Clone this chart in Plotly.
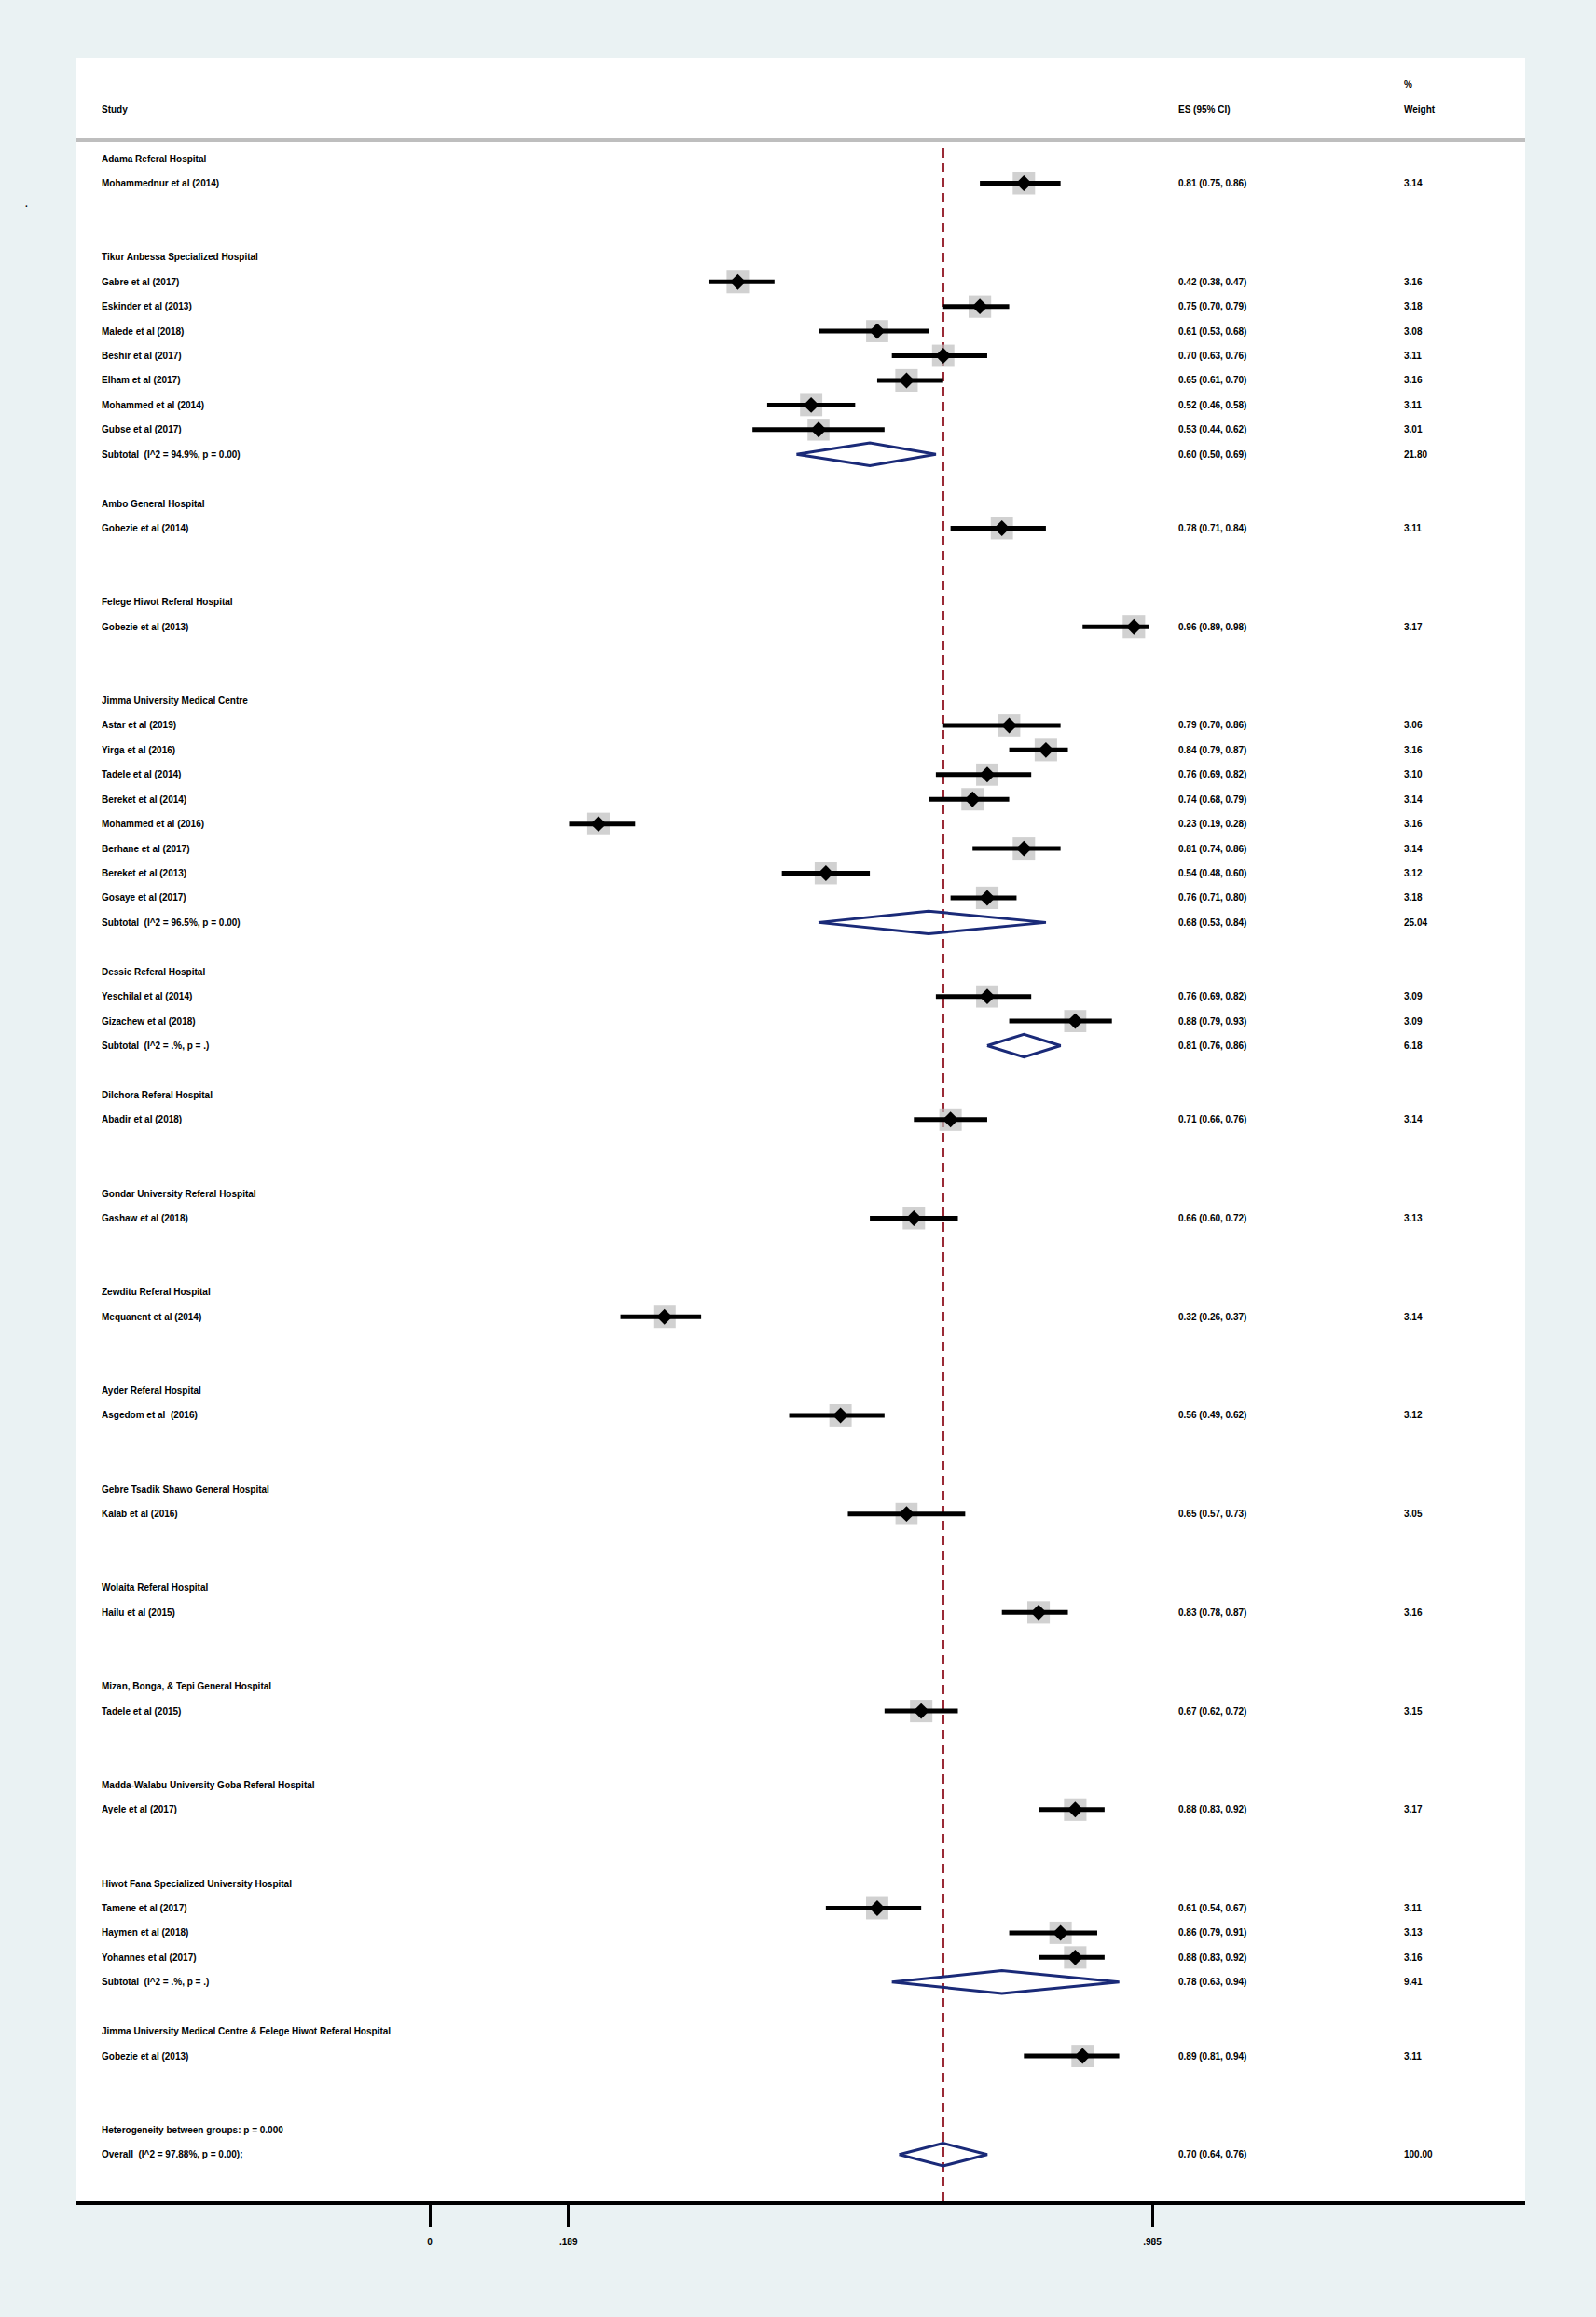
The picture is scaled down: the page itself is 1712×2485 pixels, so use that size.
import math
import plotly.graph_objects as go

W, H = 1712, 2485

# ---------------- data ----------------
group_names = [
    "Adama Referal Hospital",
    "Tikur Anbessa Specialized Hospital",
    "Ambo General Hospital",
    "Felege Hiwot Referal Hospital",
    "Jimma University Medical Centre",
    "Dessie Referal Hospital",
    "Dilchora Referal Hospital",
    "Gondar University Referal Hospital",
    "Zewditu Referal Hospital",
    "Ayder Referal Hospital",
    "Gebre Tsadik Shawo General Hospital",
    "Wolaita Referal Hospital",
    "Mizan, Bonga, & Tepi General Hospital",
    "Madda-Walabu University Goba Referal Hospital",
    "Hiwot Fana Specialized University Hospital",
    "Jimma University Medical Centre & Felege Hiwot Referal Hospital",
]

study_group = [0,
               1, 1, 1, 1, 1, 1, 1,
               2,
               3,
               4, 4, 4, 4, 4, 4, 4, 4,
               5, 5,
               6, 7, 8, 9, 10, 11, 12, 13,
               14, 14, 14,
               15]

study_labels = [
    "Mohammednur et al (2014)",
    "Gabre et al (2017)", "Eskinder et al (2013)", "Malede et al (2018)",
    "Beshir et al (2017)", "Elham et al (2017)", "Mohammed et al (2014)",
    "Gubse et al (2017)",
    "Gobezie et al (2014)",
    "Gobezie et al (2013)",
    "Astar et al (2019)", "Yirga et al (2016)", "Tadele et al (2014)",
    "Bereket et al (2014)", "Mohammed et al (2016)", "Berhane et al (2017)",
    "Bereket et al (2013)", "Gosaye et al (2017)",
    "Yeschilal et al (2014)", "Gizachew et al (2018)",
    "Abadir et al (2018)",
    "Gashaw et al (2018)",
    "Mequanent et al (2014)",
    "Asgedom et al  (2016)",
    "Kalab et al (2016)",
    "Hailu et al (2015)",
    "Tadele et al (2015)",
    "Ayele et al (2017)",
    "Tamene et al (2017)", "Haymen et al (2018)", "Yohannes et al (2017)",
    "Gobezie et al (2013)",
]

es = [0.81,
      0.42, 0.75, 0.61, 0.70, 0.65, 0.52, 0.53,
      0.78,
      0.96,
      0.79, 0.84, 0.76, 0.74, 0.23, 0.81, 0.54, 0.76,
      0.76, 0.88,
      0.71, 0.66, 0.32, 0.56, 0.65, 0.83, 0.67, 0.88,
      0.61, 0.86, 0.88,
      0.89]
lci = [0.75,
       0.38, 0.70, 0.53, 0.63, 0.61, 0.46, 0.44,
       0.71,
       0.89,
       0.70, 0.79, 0.69, 0.68, 0.19, 0.74, 0.48, 0.71,
       0.69, 0.79,
       0.66, 0.60, 0.26, 0.49, 0.57, 0.78, 0.62, 0.83,
       0.54, 0.79, 0.83,
       0.81]
uci = [0.86,
       0.47, 0.79, 0.68, 0.76, 0.70, 0.58, 0.62,
       0.84,
       0.98,
       0.86, 0.87, 0.82, 0.79, 0.28, 0.86, 0.60, 0.80,
       0.82, 0.93,
       0.76, 0.72, 0.37, 0.62, 0.73, 0.87, 0.72, 0.92,
       0.67, 0.91, 0.92,
       0.94]
weights = [3.14,
           3.16, 3.18, 3.08, 3.11, 3.16, 3.11, 3.01,
           3.11,
           3.17,
           3.06, 3.16, 3.10, 3.14, 3.16, 3.14, 3.12, 3.18,
           3.09, 3.09,
           3.14, 3.13, 3.14, 3.12, 3.05, 3.16, 3.15, 3.17,
           3.11, 3.13, 3.16,
           3.11]

# subtotals for groups with more than one study
sub_group = [1, 4, 5, 14]
sub_labels = ["Subtotal  (I^2 = 94.9%, p = 0.00)",
              "Subtotal  (I^2 = 96.5%, p = 0.00)",
              "Subtotal  (I^2 = .%, p = .)",
              "Subtotal  (I^2 = .%, p = .)"]
sub_es = [0.60, 0.68, 0.81, 0.78]
sub_lci = [0.50, 0.53, 0.76, 0.63]
sub_uci = [0.69, 0.84, 0.86, 0.94]
sub_wt = [21.80, 25.04, 6.18, 9.41]

overall_label = "Overall  (I^2 = 97.88%, p = 0.00);"
het_label = "Heterogeneity between groups: p = 0.000"
overall_es, overall_lci, overall_uci, overall_wt = 0.70, 0.64, 0.76, 100.00

tick_vals = [0, 0.189, 0.985]
tick_text = ["0", ".189", ".985"]

# ---------------- layout of rows ----------------
rows_text = []      # (row, label)
study_rows = []     # row per study
sub_rows = []       # row per subtotal
row = 0
for g, gname in enumerate(group_names):
    rows_text.append((row, gname))
    row += 1
    idx = [i for i, sg in enumerate(study_group) if sg == g]
    for i in idx:
        study_rows.append(row)
        rows_text.append((row, study_labels[i]))
        row += 1
    if g in sub_group:
        k = sub_group.index(g)
        sub_rows.append(row)
        rows_text.append((row, sub_labels[k]))
    row += 1   # subtotal slot (blank for single studies)
    row += 1   # spacer
het_row = row
overall_row = row + 1

# ---------------- geometry ----------------
PL, PR, PT, PB = 82, 1636, 62, 2361
px_per_unit = 786.8
x0px = 461.0
xmin = (PL - x0px) / px_per_unit
xmax = (PR - x0px) / px_per_unit
row_top, row_bot = -4.09, 82.9

def paper_x(px):
    return (px - PL) / (PR - PL)

X_STUDY = paper_x(107)
X_ES = paper_x(1262)
X_WT = paper_x(1504)

FONT = dict(family="Liberation Sans, Arial, sans-serif", size=10, color="#000000", weight="bold")
NAVY = "#1a2a78"
MAROON = "#9a2a36"
BG = "#eaf2f3"

fig = go.Figure()

# weight boxes
box_sizes = [24 * math.sqrt(w / 3.14) for w in weights]
fig.add_trace(go.Scatter(
    x=es, y=study_rows, mode="markers",
    marker=dict(symbol="square", size=box_sizes, color="#bdbdbd", line=dict(width=0)),
    hoverinfo="skip", showlegend=False))

# CI lines
cx, cy = [], []
for l, u, r in zip(lci, uci, study_rows):
    cx += [l, u, None]
    cy += [r, r, None]
fig.add_trace(go.Scatter(x=cx, y=cy, mode="lines",
                         line=dict(color="#000000", width=5),
                         hoverinfo="skip", showlegend=False))

# point estimates
fig.add_trace(go.Scatter(
    x=es, y=study_rows, mode="markers",
    marker=dict(symbol="diamond", size=13, color="#000000", line=dict(width=0)),
    hoverinfo="skip", showlegend=False))

# pooled diamonds
dh = 0.46
dx, dy = [], []
for e, l, u, r in list(zip(sub_es, sub_lci, sub_uci, sub_rows)) + [(overall_es, overall_lci, overall_uci, overall_row)]:
    dx += [l, e, u, e, l, None]
    dy += [r, r - dh, r, r + dh, r, None]
fig.add_trace(go.Scatter(x=dx, y=dy, mode="lines",
                         line=dict(color=NAVY, width=3),
                         hoverinfo="skip", showlegend=False))

annotations = []

def add_text(xp, yr, txt, anchor="left"):
    annotations.append(dict(x=xp, y=yr, xref="paper", yref="y", text=txt,
                            showarrow=False, xanchor=anchor, yanchor="middle",
                            font=FONT))

# headers
add_text(X_STUDY, -2, "Study")
add_text(X_ES, -2, "ES (95% CI)")
add_text(X_WT, -3, "%")
add_text(X_WT, -2, "Weight")

for r, t in rows_text:
    add_text(X_STUDY, r, t)

fmt = lambda e, l, u: f"{e:.2f} ({l:.2f}, {u:.2f})"
for i, r in enumerate(study_rows):
    add_text(X_ES, r, fmt(es[i], lci[i], uci[i]))
    add_text(X_WT, r, f"{weights[i]:.2f}")
for k, r in enumerate(sub_rows):
    add_text(X_ES, r, fmt(sub_es[k], sub_lci[k], sub_uci[k]))
    add_text(X_WT, r, f"{sub_wt[k]:.2f}")

add_text(X_STUDY, het_row, het_label)
add_text(X_STUDY, overall_row, overall_label)
add_text(X_ES, overall_row, fmt(overall_es, overall_lci, overall_uci))
add_text(X_WT, overall_row, f"{overall_wt:.2f}")

# small stray dot at far left
annotations.append(dict(x=paper_x(28), y=1.85, xref="paper", yref="y", text=".",
                        showarrow=False, xanchor="center", yanchor="middle", font=FONT))

shapes = [
    # header separator
    dict(type="line", xref="paper", yref="y", x0=0, x1=1, y0=-0.757, y1=-0.757,
         line=dict(color="#bebebe", width=4)),
    # overall dashed line
    dict(type="line", xref="x", yref="y", x0=overall_es, x1=overall_es,
         y0=-0.42, y1=row_bot, layer="below",
         line=dict(color=MAROON, width=2.5, dash="10px,6px")),
]

fig.update_layout(
    width=W, height=H,
    margin=dict(l=PL, r=W - PR, t=PT, b=H - PB),
    paper_bgcolor=BG,
    plot_bgcolor="#ffffff",
    showlegend=False,
    annotations=annotations,
    shapes=shapes,
    xaxis=dict(range=[xmin, xmax], showgrid=False, zeroline=False,
               showline=True, linecolor="#000000", linewidth=4,
               ticks="outside", ticklen=23, tickwidth=3, tickcolor="#000000",
               tickvals=tick_vals, ticktext=tick_text,
               tickfont=dict(family="Liberation Sans, Arial, sans-serif", size=10,
                             color="#000000", weight="bold"),
               ticklabelstandoff=8, fixedrange=True),
    yaxis=dict(range=[row_bot, row_top], showgrid=False, zeroline=False,
               showline=False, showticklabels=False, ticks="", fixedrange=True),
)

post_js = ("document.body.style.margin='0';document.body.style.padding='0';"
           "document.body.style.background='" + BG + "';"
           "document.documentElement.style.overflow='hidden';")
fig.write_html("out.html", post_script=post_js, config={"displayModeBar": False})
